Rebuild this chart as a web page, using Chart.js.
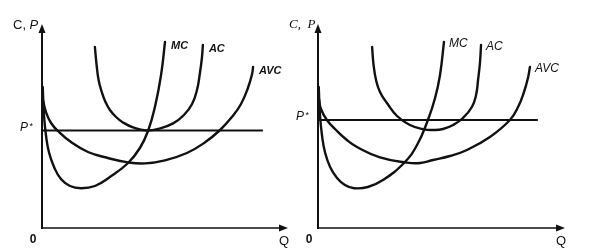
<!DOCTYPE html>
<html>
<head>
<meta charset="utf-8">
<script src="https://cdn.jsdelivr.net/npm/chart.js@4/dist/chart.umd.min.js"></script>
<style>
body { margin: 0; background: #fff; }
#wrap { position: relative; width: 589px; height: 252px; }
#wrap canvas { position: absolute; left: 0; top: 0; }
</style>
</head>
<body>
<div id="wrap">
<canvas id="left-chart" width="589" height="252"></canvas>
<canvas id="right-chart" width="589" height="252"></canvas>
</div>
<script>
// [Q, C] pairs, both axes run 0..10
const mcLeft = [[0.03,7.05],[0.08,5.65],[0.16,4.65],[0.28,3.8],[0.49,3.05],[0.77,2.45],[1.14,2.1],[1.59,1.99],[2.15,2.1],[2.76,2.55],[3.5,3.25],[3.98,4.0],[4.31,4.85],[4.59,6.05],[4.84,7.65],[5.0,9.3]];
const acLeft = [[2.15,9.05],[2.22,8.15],[2.3,7.4],[2.43,6.8],[2.58,6.3],[2.76,5.9],[3.01,5.55],[3.29,5.28],[3.7,5.03],[4.23,4.88],[4.8,4.98],[5.33,5.23],[5.77,5.65],[6.1,6.2],[6.3,6.9],[6.42,7.75],[6.5,8.5],[6.54,9.15]];
const avcLeft = [[0.04,6.4],[0.16,5.8],[0.37,5.25],[0.65,4.85],[1.18,4.3],[1.87,3.8],[2.68,3.5],[3.5,3.28],[4.19,3.23],[5.0,3.38],[5.89,3.75],[6.59,4.25],[7.24,4.9],[7.72,5.55],[8.09,6.2],[8.37,7.0],[8.54,7.7],[8.58,8.05]];
const pLeft = [[0,4.88],[8.98,4.88]];

const mcRight = [[0.03,7.05],[0.08,5.65],[0.16,4.65],[0.28,3.8],[0.49,3.05],[0.77,2.5],[1.09,2.15],[1.46,1.99],[2.02,2.05],[2.63,2.4],[3.48,3.25],[4.01,4.15],[4.45,5.4],[4.74,6.5],[4.94,7.65],[5.1,9.3]];
const acRight = [[2.19,9.05],[2.25,8.15],[2.35,7.4],[2.51,6.8],[2.79,6.25],[3.2,5.6],[3.72,5.15],[4.29,4.93],[4.66,4.9],[5.06,4.95],[5.47,5.15],[5.87,5.5],[6.23,6.05],[6.4,6.65],[6.48,7.4],[6.56,8.3],[6.6,9.15]];
const avcRight = [[0.03,6.5],[0.12,5.95],[0.36,5.4],[0.73,4.9],[1.17,4.4],[1.58,4.05],[2.51,3.53],[3.6,3.27],[4.13,3.25],[4.66,3.4],[5.34,3.6],[6.03,3.9],[6.96,4.55],[7.77,5.4],[8.1,6.05],[8.34,6.8],[8.5,7.5],[8.58,8.05]];
const pRight = [[0,5.4],[8.9,5.4]];

const curveNames = ["MC", "AC", "AVC"];

// axes with arrows, axis texts and curve names
const sketchAxes = {
    id: "sketchAxes",
    afterDraw(chart, args, opts) {
        const { ctx, chartArea: a, scales: { x, y } } = chart;
        const x0 = x.getPixelForValue(0), y0 = y.getPixelForValue(0);
        ctx.save();
        ctx.strokeStyle = "#111";
        ctx.fillStyle = "#111";
        ctx.lineWidth = 2;
        ctx.beginPath(); ctx.moveTo(x0, y0 + 1); ctx.lineTo(x0, a.top + 2); ctx.stroke();
        ctx.lineWidth = 1.5;
        ctx.beginPath(); ctx.moveTo(x0, y0); ctx.lineTo(a.right - 6, y0); ctx.stroke();
        ctx.beginPath(); ctx.moveTo(x0, a.top - 4); ctx.lineTo(x0 - 3.5, a.top + 5); ctx.lineTo(x0 + 3.5, a.top + 5); ctx.fill();
        ctx.beginPath(); ctx.moveTo(a.right, y0); ctx.lineTo(a.right - 9, y0 - 3.5); ctx.lineTo(a.right - 9, y0 + 3.5); ctx.fill();

        ctx.textBaseline = "middle";
        // y title, drawn piece by piece
        let tx = x0 + opts.titleDx;
        ctx.textAlign = "left";
        opts.title.forEach(p => {
            ctx.font = p.font;
            ctx.fillText(p.text, tx, a.top - 3);
            tx += ctx.measureText(p.text).width;
        });

        ctx.font = "bold 12px Arial";
        ctx.textAlign = "center";
        ctx.fillText("0", x0 - 9, y0 + 12);
        ctx.font = "13px Arial";
        ctx.fillText("Q", a.right - 4, y0 + 13);

        const py = y.getPixelForValue(opts.pValue);
        ctx.textAlign = "right";
        ctx.font = "9px Arial";
        ctx.fillText("*", x0 - 9, py - 4);
        ctx.font = "italic 12px Arial";
        ctx.fillText("P", x0 - 14, py - 3);

        ctx.textAlign = "left";
        ctx.font = opts.curveFont;
        chart.data.datasets.forEach((ds, i) => {
            if (!curveNames.includes(ds.label)) return;
            const pts = chart.getDatasetMeta(i).data;
            const last = pts[pts.length - 1];
            ctx.fillText(ds.label, last.x + opts.labelDx, last.y + opts.labelDy);
        });
        ctx.restore();
    }
};

const curve = (label, data) => ({
    label: label,
    data: data,
    borderColor: "#111",
    borderWidth: 2.4,
    borderCapStyle: "round",
    borderJoinStyle: "round",
    pointRadius: 0,
    fill: false,
    tension: 0.45,
});

const makePanel = (id, mc, ac, avc, p, padding, axisOpts) => {
    const ctx = document.getElementById(id);
    return new Chart(ctx, {
        type: "line",
        data: {
            datasets: [
                curve("MC", mc),
                curve("AC", ac),
                curve("AVC", avc),
                { label: "P*", data: p, borderColor: "#111", borderWidth: 2, pointRadius: 0, tension: 0 },
            ]
        },
        options: {
            responsive: false,
            animation: false,
            devicePixelRatio: 1,
            layout: { padding: padding },
            scales: {
                x: { type: "linear", min: 0, max: 10, display: false },
                y: { type: "linear", min: 0, max: 10, display: false },
            },
            plugins: {
                legend: { display: false },
                tooltip: { enabled: false },
                sketchAxes: axisOpts,
            },
        },
        plugins: [sketchAxes],
    });
};

makePanel("left-chart", mcLeft, acLeft, avcLeft, pLeft,
    { left: 42, right: 301, top: 28, bottom: 24 },
    {
        pValue: pLeft[0][1],
        titleDx: -29,
        title: [{ text: "C, ", font: "13px Arial" }, { text: "P", font: "italic 13px Arial" }],
        curveFont: "italic bold 11px Arial",
        labelDx: 6, labelDy: 4,
    });

makePanel("right-chart", mcRight, acRight, avcRight, pRight,
    { left: 318, right: 24, top: 28, bottom: 24 },
    {
        pValue: pRight[0][1],
        titleDx: -29,
        title: [{ text: "C,  P", font: "italic 13px 'Liberation Serif'" }],
        curveFont: "italic 12px Arial",
        labelDx: 5, labelDy: 2,
    });
</script>
</body>
</html>
